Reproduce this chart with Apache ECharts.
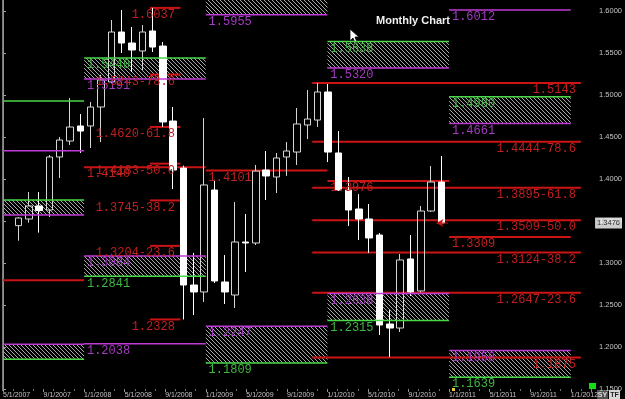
<!DOCTYPE html>
<html><head><meta charset="utf-8">
<script src="https://cdn.jsdelivr.net/npm/echarts@6/dist/echarts.min.js"></script>
<style>html,body{margin:0;padding:0;background:#000;overflow:hidden}#c{width:625px;height:399px}</style>
</head><body><div id="c"></div>
<script>
// ---------- DATA ----------
const months = ['2007-05','2007-06','2007-07','2007-08','2007-09','2007-10','2007-11','2007-12',
 '2008-01','2008-02','2008-03','2008-04','2008-05','2008-06','2008-07','2008-08','2008-09','2008-10','2008-11','2008-12',
 '2009-01','2009-02','2009-03','2009-04','2009-05','2009-06','2009-07','2009-08','2009-09','2009-10','2009-11','2009-12',
 '2010-01','2010-02','2010-03','2010-04','2010-05','2010-06','2010-07','2010-08','2010-09','2010-10','2010-11','2010-12',
 '2011-01','2011-02','2011-03','2011-04','2011-05','2011-06','2011-07','2011-08','2011-09','2011-10','2011-11','2011-12',
 '2012-01'];
const candleStart = '2007-06';
const opens  = [1.3445,1.3524,1.3679,1.3631,1.4262,1.4452,1.4631,1.4631,1.4857,1.5155,1.5750,1.5619,1.5524,1.5762,1.5583,1.4690,1.4130,1.2738,1.2655,
 1.3869,1.2774,1.2619,1.3250,1.3238,1.4107,1.4024,1.4262,1.4321,1.4643,1.4702,1.5036,
 1.4310,1.3869,1.3643,1.3524,1.3333,1.2274,1.2226,1.3048,1.2667,1.3619,1.3964];
const closes = [1.3536,1.3679,1.3625,1.4262,1.4464,1.4619,1.4571,1.4857,1.5179,1.5750,1.5619,1.5536,1.5750,1.5571,1.4679,1.4107,1.2738,1.2655,1.3929,
 1.2786,1.2655,1.3250,1.3238,1.4095,1.4036,1.4250,1.4333,1.4655,1.4714,1.5036,1.4321,
 1.3869,1.3631,1.3524,1.3298,1.2262,1.2226,1.3036,1.2655,1.3619,1.3964,1.3476];
const lows   = [1.3265,1.3480,1.3361,1.3548,1.4012,1.4405,1.4310,1.4369,1.4440,1.5143,1.5500,1.5274,1.5298,1.5512,1.4620,1.3880,1.2328,1.2380,1.2536,
 1.2762,1.2512,1.2464,1.2893,1.3214,1.3750,1.3833,1.4036,1.4167,1.4476,1.4619,1.4202,
 1.3857,1.3440,1.3274,1.3119,1.2143,1.1881,1.2179,1.2607,1.2650,1.3607,1.3464];
const highs  = [1.3545,1.3845,1.3845,1.4286,1.4500,1.4964,1.4774,1.4917,1.5240,1.5893,1.6012,1.5810,1.5833,1.6037,1.5631,1.4857,1.4160,1.3120,1.4726,
 1.3990,1.3095,1.3726,1.3583,1.4167,1.4333,1.4310,1.4440,1.4845,1.5060,1.5143,1.5131,
 1.4571,1.4024,1.3820,1.3702,1.3357,1.2440,1.3107,1.3333,1.3679,1.4155,1.4274];
const lastClose = 1.3476;

const xTickLabels = ['5/1/2007','9/1/2007','1/1/2008','5/1/2008','9/1/2008','1/1/2009','5/1/2009','9/1/2009',
 '1/1/2010','5/1/2010','9/1/2010','1/1/2011','5/1/2011','9/1/2011','1/1/2012'];
const yTickValues = [1.15,1.20,1.25,1.30,1.35,1.40,1.45,1.50,1.55,1.60];

// yearly levels: [from, to, price, label]
const greenLines = [
 ['2007-05','2008-01',1.4929,''],['2007-05','2008-01',1.3750,''],['2007-05','2008-01',1.1854,''],
 ['2008-01','2009-01',1.5440,'1.5440'],['2008-01','2009-01',1.2841,'1.2841'],
 ['2009-01','2010-01',1.1809,'1.1809'],
 ['2010-01','2011-01',1.5638,'1.5638'],['2010-01','2011-01',1.2315,'1.2315'],
 ['2011-01','2012-01',1.4980,'1.4980'],['2011-01','2012-01',1.1639,'1.1639']];
const magentaLines = [
 ['2007-05','2008-01',1.4337,''],['2007-05','2008-01',1.3571,''],['2007-05','2008-01',1.2032,''],
 ['2008-01','2009-01',1.5191,'1.5191'],['2008-01','2009-01',1.3084,'1.3084'],['2008-01','2009-01',1.2038,'1.2038'],
 ['2009-01','2010-01',1.5955,'1.5955'],['2009-01','2010-01',1.2247,'1.2247'],
 ['2010-01','2011-01',1.5320,'1.5320'],['2010-01','2011-01',1.2638,'1.2638'],
 ['2011-01','2012-01',1.6012,'1.6012'],['2011-01','2012-01',1.4661,'1.4661'],['2011-01','2012-01',1.1958,'1.1958']];
const redLines = [
 ['2007-05','2008-01',1.2794,''],['2008-01','2009-01',1.4140,'1.4140'],['2009-01','2010-01',1.4101,'1.4101'],
 ['2010-01','2011-01',1.3976,'1.3976'],['2011-01','2012-01',1.3309,'1.3309']];
// hatched zones: [from, to, upper, lower]
const hatchZones = [
 ['2007-05','2008-01',1.3750,1.3571],['2007-05','2008-01',1.2032,1.1854],
 ['2008-01','2009-01',1.5440,1.5191],['2008-01','2009-01',1.3084,1.2841],
 ['2009-01','2010-01',1.6200,1.5955],['2009-01','2010-01',1.2247,1.1809],
 ['2010-01','2011-01',1.5638,1.5320],['2010-01','2011-01',1.2638,1.2315],
 ['2011-01','2012-01',1.4980,1.4661],['2011-01','2012-01',1.1958,1.1639]];
// fibonacci retracements
const fibA = {from:'2008-07', to:'2008-10'};
const fibALevels = [1.6037,1.5243,1.4620,1.4183,1.3745,1.3204,1.2328];
const fibALabels = ['1.6037','1.5243-78.6','1.4620-61.8','1.4183-50.0','1.3745-38.2','1.3204-23.6','1.2328'];
const fibB = {from:'2009-11'};
const fibBLevels = [1.5143,1.4444,1.3895,1.3509,1.3124,1.2647,1.1875];
const fibBLabels = ['1.5143','1.4444-78.6','1.3895-61.8','1.3509-50.0','1.3124-38.2','1.2647-23.6','1.1875'];

// ---------- BUILD ----------
const uOf = m => months.indexOf(m);
const uEnd = months.length;
const ci0 = uOf(candleStart);
const candleData = months.map((m,i)=>{
  const k = i - ci0;
  return (k>=0 && k<opens.length) ? [opens[k],closes[k],lows[k],highs[k]] : '-';
});
const lastIdx = ci0 + opens.length - 1;

const C_RED='#cc1414', C_MAG='#c03ad6', C_GRN='#48d848';
const T_RED='#c02020', T_MAG='#a43cc0', T_GRN='#3fb83f';

const pc = document.createElement('canvas'); pc.width=4; pc.height=4;
const pg = pc.getContext('2d'); pg.fillStyle='#a8a8a8';
for(let i=0;i<4;i++) pg.fillRect(i,i,1,1);
const hatch = {image: pc, repeat:'repeat'};

function segLines(list){ return list.map(l=>[uOf(l[0]),uOf(l[1]),l[2]]); }
const redSeg = segLines(redLines)
  .concat(fibALevels.map(p=>[uOf(fibA.from)+0.5,uOf(fibA.to)+0.5,p]))
  .concat(fibBLevels.map(p=>[uOf(fibB.from)+0.5,uEnd,p]));

const labels = [];
[[greenLines,T_GRN],[magentaLines,T_MAG],[redLines,T_RED]].forEach(([list,col])=>{
  list.forEach(l=>{ if(l[3]) labels.push({u:uOf(l[0])+0.28,p:l[2],t:l[3],c:col,a:'left'}); });
});
fibALevels.forEach((p,i)=>labels.push({u:uOf(fibA.to)+0.5-0.55,p:p,t:fibALabels[i],c:T_RED,a:'right'}));
fibBLevels.forEach((p,i)=>labels.push({u:uEnd-0.5,p:p,t:fibBLabels[i],c:T_RED,a:'right'}));

function clipRect(r, params){
  const cs = params.coordSys;
  return echarts.graphic.clipRectByRect(r,{x:cs.x,y:cs.y,width:cs.width,height:cs.height});
}
function lineSeries(data,color,w,z){
  return {type:'custom',xAxisIndex:1,yAxisIndex:0,z:z,silent:true,data:data,
    renderItem:(params,api)=>{
      const a=api.coord([api.value(0),api.value(2)]), b=api.coord([api.value(1),api.value(2)]);
      return {type:'line',shape:{x1:a[0],y1:a[1],x2:b[0],y2:b[1]},style:{stroke:color,lineWidth:w}};
    }};
}

const chart = echarts.init(document.getElementById('c'),null,{renderer:'canvas'});
chart.setOption({
  backgroundColor:'#000',
  animation:false,
  title:{text:'Monthly Chart',left:371,top:10,textStyle:{color:'#f0f0f0',fontSize:11,fontWeight:'bold',fontFamily:'Liberation Sans'}},
  grid:{left:0,right:31,top:0,bottom:10,containLabel:false},
  xAxis:[
    {type:'category',data:months,boundaryGap:true,show:false},
    {type:'value',min:0,max:uEnd+1,interval:4,position:'bottom',
     axisLine:{show:false},splitLine:{show:false},
     axisTick:{show:true,length:3,lineStyle:{color:'#909090'}},
     minorTick:{show:true,splitNumber:4,length:2,lineStyle:{color:'#707070'}},
     axisLabel:{show:true,color:'#c4c4c4',fontSize:7,fontFamily:'Liberation Sans',align:'left',margin:3,
       showMaxLabel:false,formatter:v=>xTickLabels[v/4]||''}}
  ],
  yAxis:[{type:'value',position:'right',min:1.15,max:1.6131,interval:0.05,
    axisLine:{show:true,lineStyle:{color:'#909090'}},
    axisTick:{show:true,length:3,lineStyle:{color:'#a0a0a0'}},
    splitLine:{show:false},
    axisLabel:{color:'#c4c4c4',fontSize:7.5,fontFamily:'Liberation Sans',margin:8,showMaxLabel:false,
      formatter:v=>yTickValues.some(t=>Math.abs(t-v)<1e-6)?v.toFixed(4):''}}],
  series:[
    {type:'custom',xAxisIndex:1,yAxisIndex:0,z:1,silent:true,
     data:hatchZones.map(h=>[uOf(h[0]),uOf(h[1]),h[2],h[3]]),
     renderItem:(params,api)=>{
       const a=api.coord([api.value(0),api.value(2)]), b=api.coord([api.value(1),api.value(3)]);
       const r=clipRect({x:a[0],y:a[1],width:b[0]-a[0],height:b[1]-a[1]},params);
       return r?{type:'rect',shape:r,style:{fill:hatch}}:null;
     }},
    lineSeries(redSeg,C_RED,2,2),
    {type:'candlestick',xAxisIndex:0,yAxisIndex:0,z:3,barWidth:7,data:candleData,
     itemStyle:{color:'rgba(0,0,0,0)',color0:'#ffffff',borderColor:'#d4d4d4',borderColor0:'#ffffff',borderWidth:1}},
    lineSeries(segLines(greenLines),C_GRN,1.5,4),
    lineSeries(segLines(magentaLines),C_MAG,1.5,4),
    {type:'custom',xAxisIndex:1,yAxisIndex:0,z:5,silent:true,
     data:labels.map(l=>[l.u,l.p]),
     renderItem:(params,api)=>{
       const l=labels[params.dataIndex]; const pt=api.coord([api.value(0),api.value(1)]);
       return {type:'text',x:pt[0],y:pt[1]+1,style:{text:l.t,fill:l.c,font:'12px "Liberation Mono"',
         align:l.a,verticalAlign:'top',textAlign:l.a,textVerticalAlign:'top'}};
     }},
    {type:'line',xAxisIndex:1,yAxisIndex:0,z:5,silent:true,
     data:[{value:[lastIdx+0.75,lastClose],symbol:'arrow',symbolSize:[6,7],symbolRotate:90},
           {value:[lastIdx+1.9,lastClose],symbol:'none'}],
     lineStyle:{color:C_RED,width:1},itemStyle:{color:C_RED}},
    {type:'scatter',xAxisIndex:1,yAxisIndex:0,z:6,silent:true,symbolSize:0,clip:false,
     data:[[uEnd+1,lastClose]],
     label:{show:true,position:'right',distance:4,formatter:()=>lastClose.toFixed(4),
       backgroundColor:'#ffffff',color:'#000',fontSize:7.5,fontFamily:'Liberation Sans',padding:[2,2,1,2]}}
  ],
  graphic:[
    {type:'line',shape:{x1:2.5,y1:0,x2:2.5,y2:391},style:{stroke:'#7a7a7a',lineWidth:1},silent:true},
    {type:'rect',shape:{x:589,y:383,width:7,height:6},style:{fill:'#10e010'},silent:true},
    {type:'rect',shape:{x:452,y:388,width:3,height:3},style:{fill:'#e8d040'},silent:true},
    {type:'rect',shape:{x:597,y:390,width:11,height:9},style:{fill:'#505050'},silent:true},
    {type:'text',x:602.5,y:395,style:{text:'SY',fill:'#e0e0e0',font:'bold 7px Liberation Sans',align:'center',verticalAlign:'middle'},silent:true},
    {type:'rect',shape:{x:609,y:390,width:11,height:9},style:{fill:'#d8d8d8'},silent:true},
    {type:'text',x:614.5,y:395,style:{text:'TF',fill:'#202020',font:'bold 7px Liberation Sans',align:'center',verticalAlign:'middle'},silent:true},
    {type:'polygon',shape:{points:[[350,29],[350,41],[353,38],[355,43],[357,42],[355,37],[359,37]]},
     style:{fill:'#fff',stroke:'#000',lineWidth:0.8},silent:true}
  ]
});
</script></body></html>
